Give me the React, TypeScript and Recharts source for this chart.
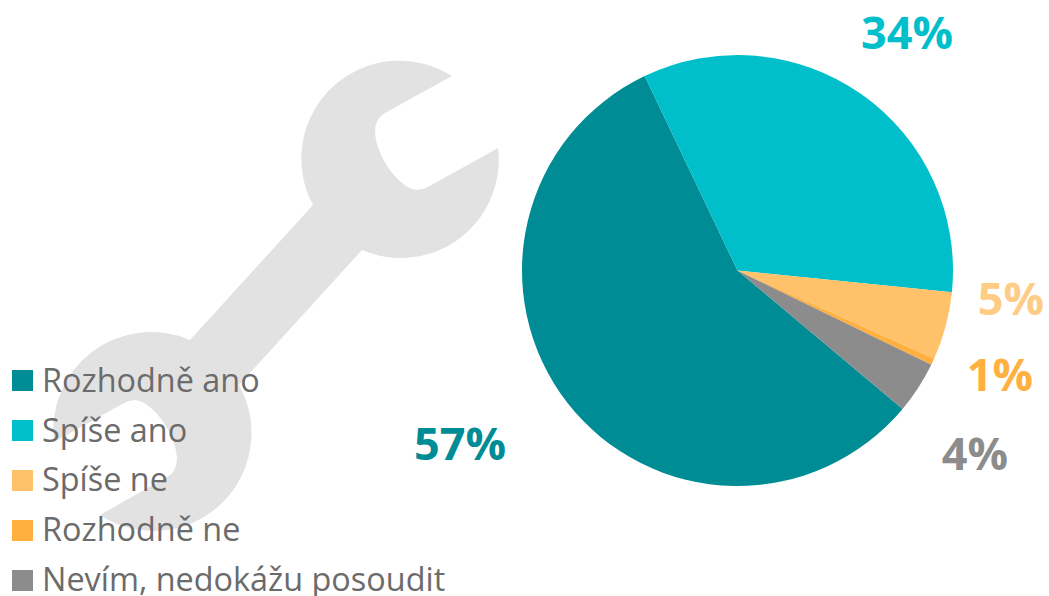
import { Legend, Pie, PieChart } from 'recharts'

const categories = ['Rozhodně ano', 'Spíše ano', 'Spíše ne', 'Rozhodně ne', 'Nevím, nedokážu posoudit']
const shares = [56.8, 33.7, 5.1, 0.5, 3.9]
const shareLabels = ['57%', '34%', '5%', '1%', '4%']
const colors = ['#008C95', '#00BFCB', '#FFC169', '#FFB03F', '#8C8C8C']
const labelColors = ['#008C95', '#00BFCB', '#FFCC85', '#FFB03F', '#8C8C8C']

const rows = categories.map((name, i) => ({ name, value: shares[i], fill: colors[i] }))

// labels were hand placed in the original, so they do not follow the slices
const labelSpots = [
  [460, 442],
  [907, 31],
  [1011, 297],
  [1000, 373],
  [975, 452],
]

const WRENCH =
  'M452,76 L385,113 Q375,118 375,132 C376,155 398,188 417,190 Q422,190 428,187 L498,148 ' +
  'A98,98 0 0 1 362,250 L239,385 A98,98 0 0 1 100,515 L167,477 Q177,472 177,458 ' +
  'C176,435 154,402 135,400 Q130,400 124,403 L54,442 A98,98 0 0 1 190,340 L313,205 A98,98 0 0 1 452,76 Z'

function renderLabel({ index }: { index: number }) {
  const [x, y] = labelSpots[index]
  return (
    <text
      x={x}
      y={y}
      textAnchor="middle"
      dominantBaseline="central"
      fill={labelColors[index]}
      fontFamily="Open Sans"
      fontWeight={700}
      fontSize={45}
    >
      {shareLabels[index]}
    </text>
  )
}

function renderLegend() {
  return (
    <div>
      {rows.map((row) => (
        <div key={row.name} style={{ display: 'flex', alignItems: 'center', height: 49.8 }}>
          <span style={{ width: 21, height: 21, background: row.fill, marginRight: 9 }} />
          <span
            style={{
              fontFamily: 'Open Sans',
              fontSize: 32.4,
              color: '#6B6B6B',
              whiteSpace: 'nowrap',
              lineHeight: '40px',
              position: 'relative',
              top: -2,
            }}
          >
            {row.name}
          </span>
        </div>
      ))}
    </div>
  )
}

export default function App() {
  return (
    <div style={{ position: 'absolute', left: 0, top: 0, width: 1049, height: 596, overflow: 'hidden' }}>
      <PieChart width={1049} height={596} margin={{ top: 0, right: 0, bottom: 0, left: 0 }}>
        <path d={WRENCH} fill="#E2E2E2" />
        <Pie
          data={rows}
          dataKey="value"
          nameKey="name"
          cx={737.5}
          cy={270.5}
          outerRadius={215.5}
          startAngle={-40}
          endAngle={-400}
          stroke="none"
          label={renderLabel}
          labelLine={false}
          isAnimationActive={false}
        />
        <Legend
          content={renderLegend}
          layout="vertical"
          align="center"
          verticalAlign="middle"
          wrapperStyle={{ left: 12, top: 356, width: 460 }}
        />
      </PieChart>
    </div>
  )
}
